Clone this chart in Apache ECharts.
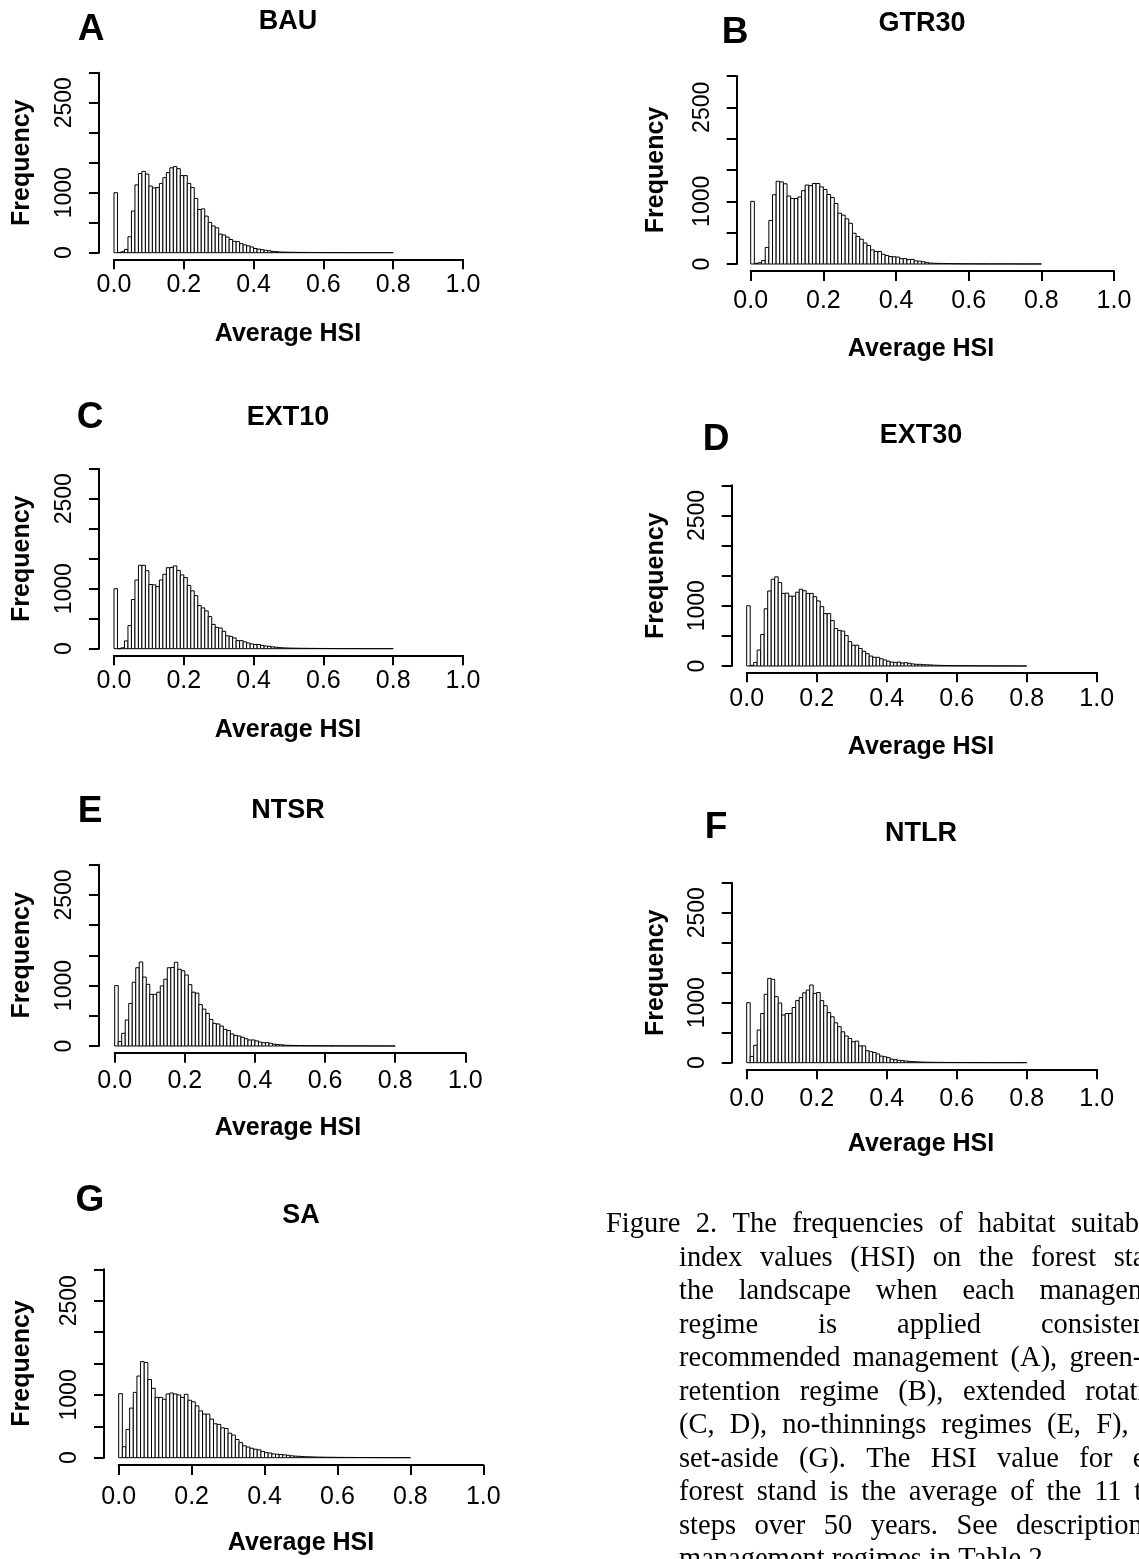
<!DOCTYPE html>
<html>
<head>
<meta charset="utf-8">
<script src="https://cdn.jsdelivr.net/npm/echarts@6/dist/echarts.min.js"></script>
<style>
html, body { margin: 0; padding: 0; background: #fff; }
#main { width: 1139px; height: 1559px; }
</style>
</head>
<body>
<div id="main"></div>
<script>
// bins of width 0.01 from 0.00 to 0.80
var binWidth = 0.01;
var binStart = [];
for (var i = 0; i < 80; i++) binStart.push(+(i * binWidth).toFixed(2));
var yShownLabels = [0, 1000, 2500];

// frequencies
var bau = [1000, 5, 15, 55, 265, 695, 1130, 1320, 1355, 1310, 1110, 1080, 1085, 1155, 1250, 1335, 1415, 1435, 1400, 1285,
  1285, 1155, 1085, 905, 720, 730, 610, 505, 445, 415, 310, 295, 260, 220, 190, 185, 150, 130, 115, 95,
  70, 60, 50, 40, 33, 22, 18, 12, 10, 9, 8, 7, 6, 5, 5, 4, 4, 3, 3, 3,
  3, 2, 2, 2, 2, 2, 2, 1, 1, 1, 1, 1, 1, 1, 1, 1, 1, 1, 1, 1];
var gtr30 = [1000, 10, 20, 55, 265, 695, 1105, 1320, 1310, 1280, 1085, 1045, 1045, 1070, 1170, 1260, 1250, 1285, 1285, 1230,
  1190, 1110, 1060, 965, 810, 780, 720, 650, 490, 440, 395, 335, 295, 225, 200, 200, 155, 135, 120, 115,
  110, 85, 85, 70, 75, 50, 45, 35, 22, 15, 12, 10, 9, 8, 7, 6, 5, 5, 4, 4,
  4, 3, 3, 3, 3, 2, 2, 2, 2, 2, 2, 2, 2, 1, 1, 1, 1, 1, 1, 1];
var ext10 = [1000, 0, 15, 130, 385, 820, 1145, 1390, 1390, 1300, 1070, 1065, 1035, 1145, 1240, 1350, 1355, 1380, 1305, 1230,
  1185, 1055, 965, 885, 720, 680, 630, 535, 405, 355, 345, 290, 215, 205, 180, 135, 135, 115, 95, 80,
  70, 70, 55, 45, 40, 30, 25, 18, 14, 12, 10, 9, 8, 7, 6, 6, 5, 5, 4, 4,
  4, 3, 3, 3, 3, 2, 2, 2, 2, 2, 2, 1, 1, 1, 1, 1, 1, 1, 1, 1];
var ext30 = [1000, 10, 60, 265, 525, 950, 1245, 1440, 1480, 1385, 1205, 1210, 1160, 1160, 1225, 1275, 1250, 1205, 1205, 1150,
  1080, 985, 870, 870, 755, 620, 590, 580, 505, 405, 345, 345, 290, 245, 205, 165, 145, 145, 120, 100,
  80, 65, 60, 65, 50, 55, 45, 35, 28, 28, 22, 20, 18, 15, 12, 10, 9, 8, 7, 6,
  6, 5, 5, 4, 4, 4, 3, 3, 3, 3, 2, 2, 2, 2, 2, 2, 1, 1, 1, 1];
var ntsr = [1000, 75, 210, 430, 705, 1055, 1295, 1390, 1140, 1020, 855, 855, 890, 995, 1105, 1295, 1300, 1385, 1270, 1245,
  1175, 1015, 890, 875, 685, 610, 540, 440, 375, 365, 330, 275, 255, 200, 175, 165, 145, 120, 100, 100,
  85, 65, 55, 55, 45, 30, 25, 20, 15, 12, 10, 9, 8, 7, 6, 6, 5, 5, 4, 4,
  4, 3, 3, 3, 3, 2, 2, 2, 2, 2, 2, 2, 1, 1, 1, 1, 1, 1, 1, 1];
var ntlr = [1000, 105, 290, 545, 820, 1140, 1405, 1390, 1100, 995, 795, 820, 820, 920, 1035, 1085, 1165, 1210, 1295, 1155,
  1170, 1035, 950, 835, 765, 665, 600, 515, 445, 405, 350, 360, 280, 280, 200, 185, 170, 145, 110, 100,
  85, 60, 50, 40, 35, 28, 22, 18, 15, 12, 10, 9, 8, 7, 6, 5, 5, 4, 4, 4,
  3, 3, 3, 3, 2, 2, 2, 2, 2, 2, 1, 1, 1, 1, 1, 1, 1, 1, 1, 1];
var sa = [1020, 175, 450, 790, 1040, 1300, 1530, 1515, 1245, 1105, 960, 960, 930, 1015, 1030, 1015, 1000, 960, 1010, 915,
  890, 825, 745, 695, 695, 615, 540, 530, 475, 465, 390, 360, 290, 240, 190, 170, 150, 135, 125, 100,
  80, 75, 60, 55, 50, 45, 38, 30, 25, 22, 18, 15, 14, 12, 10, 9, 8, 7, 7, 6,
  5, 5, 4, 4, 4, 3, 3, 3, 3, 2, 2, 2, 2, 2, 1, 1, 1, 1, 1, 1];

var captionLines = [
  'Figure 2. The frequencies of habitat suitability',
  'index values (HSI) on the forest stands',
  'the landscape when each management',
  'regime is applied consistently:',
  'recommended management (A), green-tree',
  'retention regime (B), extended rotations',
  '(C, D), no-thinnings regimes (E, F), and',
  'set-aside (G). The HSI value for each',
  'forest stand is the average of the 11 time',
  'steps over 50 years. See description of',
  'management regimes in Table 2.'
];

var panels = [
  { letter: 'A', title: 'BAU', data: bau, grid: [114, 72.7, 349, 180], yOff: 15, xOff: 6.6, xLabMargin: 13,
    letterAt: [91, 30], titleAt: [288, 22], xlabAt: [288, 334], ylabAt: [22.5, 162.7] },
  { letter: 'B', title: 'GTR30', data: gtr30, grid: [750.7, 76, 363.3, 188], yOff: 14, xOff: 7, xLabMargin: 18,
    letterAt: [735, 33], titleAt: [922, 24], xlabAt: [921, 349], ylabAt: [656, 170] },
  { letter: 'C', title: 'EXT10', data: ext10, grid: [114, 468.7, 349, 180], yOff: 15, xOff: 6.6, xLabMargin: 13,
    letterAt: [90, 418], titleAt: [288, 418], xlabAt: [288, 730], ylabAt: [22.5, 558.7] },
  { letter: 'D', title: 'EXT30', data: ext30, grid: [746.7, 485.3, 350, 180.7], yOff: 15, xOff: 6.3, xLabMargin: 14,
    letterAt: [716, 440], titleAt: [921, 436], xlabAt: [921, 747], ylabAt: [656, 575.7] },
  { letter: 'E', title: 'NTSR', data: ntsr, grid: [114.7, 864.7, 350.6, 181.3], yOff: 15.7, xOff: 6.7, xLabMargin: 16,
    letterAt: [90, 812], titleAt: [288, 811], xlabAt: [288, 1128], ylabAt: [22.5, 955.3] },
  { letter: 'F', title: 'NTLR', data: ntlr, grid: [746.7, 882.7, 350, 180], yOff: 15, xOff: 6.6, xLabMargin: 17,
    letterAt: [716, 828], titleAt: [921, 834], xlabAt: [921, 1144], ylabAt: [656, 972.7] },
  { letter: 'G', title: 'SA', data: sa, grid: [118.7, 1269.3, 364.6, 188.4], yOff: 14.7, xOff: 7.3, xLabMargin: 20,
    letterAt: [90, 1201], titleAt: [301, 1216], xlabAt: [301, 1543], ylabAt: [22.5, 1363.5] }
];

var sans = '"Liberation Sans", Arial, Helvetica, sans-serif';
var serif = '"Liberation Serif", "Times New Roman", serif';

function renderBin(params, api) {
  var x0 = api.value(0);
  var h = api.value(1);
  var p0 = api.coord([x0, h]);
  var p1 = api.coord([x0 + binWidth, 0]);
  return {
    type: 'rect',
    shape: { x: p0[0], y: p0[1], width: p1[0] - p0[0], height: p1[1] - p0[1] },
    style: { fill: '#fff', stroke: '#000', lineWidth: 1 }
  };
}

var grids = [], xAxes = [], yAxes = [], series = [], graphics = [];

panels.forEach(function (p, i) {
  grids.push({ left: p.grid[0], top: p.grid[1], width: p.grid[2], height: p.grid[3],
    containLabel: false, outerBoundsMode: 'none' });
  xAxes.push({
    gridIndex: i, type: 'value', min: 0, max: 1, interval: 0.2, offset: p.xOff,
    axisLine: { show: true, onZero: false, lineStyle: { color: '#000', width: 2 } },
    axisTick: { show: true, length: 10, lineStyle: { color: '#000', width: 2 } },
    splitLine: { show: false },
    axisLabel: { margin: p.xLabMargin, fontSize: 25, color: '#000', fontFamily: sans,
      formatter: function (v) { return v.toFixed(1); } }
  });
  yAxes.push({
    gridIndex: i, type: 'value', min: 0, max: 3000, interval: 500, offset: p.yOff,
    axisLine: { show: true, onZero: false, lineStyle: { color: '#000', width: 2 } },
    axisTick: { show: true, length: 10, lineStyle: { color: '#000', width: 2 } },
    splitLine: { show: false },
    axisLabel: { rotate: 90, margin: 23, fontSize: 23, color: '#000', fontFamily: sans,
      formatter: function (v) { return yShownLabels.indexOf(v) >= 0 ? String(v) : ''; } }
  });
  series.push({
    type: 'custom', xAxisIndex: i, yAxisIndex: i, silent: true, clip: false,
    renderItem: renderBin,
    data: p.data.map(function (v, k) { return [binStart[k], v]; })
  });

  graphics.push({ type: 'text', x: p.letterAt[0], y: p.letterAt[1],
    style: { text: p.letter, fontSize: 37, fontWeight: 'bold', fontFamily: sans, fill: '#000',
      align: 'center', verticalAlign: 'middle' } });
  graphics.push({ type: 'text', x: p.titleAt[0], y: p.titleAt[1],
    style: { text: p.title, fontSize: 27, fontWeight: 'bold', fontFamily: sans, fill: '#000',
      align: 'center', verticalAlign: 'middle' } });
  graphics.push({ type: 'text', x: p.xlabAt[0], y: p.xlabAt[1],
    style: { text: 'Average HSI', fontSize: 25, fontWeight: 'bold', fontFamily: sans, fill: '#000',
      align: 'center', verticalAlign: 'middle' } });
  graphics.push({ type: 'text', x: p.ylabAt[0], y: p.ylabAt[1], rotation: Math.PI / 2,
    style: { text: 'Frequency', fontSize: 25, fontWeight: 'bold', fontFamily: sans, fill: '#000',
      align: 'center', verticalAlign: 'middle' } });
});

// caption, justified between the indent and the right edge of the column
var capFont = 28.5;
var measure = document.createElement('canvas').getContext('2d');
measure.font = capFont + 'px "Liberation Serif"';
var capRight = 1185, capBase = 1234, capStep = 33.5;
captionLines.forEach(function (line, li) {
  var x0 = li === 0 ? 606 : 679;
  var words = line.split(' ');
  var widths = words.map(function (w) { return measure.measureText(w).width; });
  var total = widths.reduce(function (a, b) { return a + b; }, 0);
  var last = li === captionLines.length - 1;
  var gap = last ? measure.measureText(' ').width : (capRight - x0 - total) / (words.length - 1);
  var x = x0;
  words.forEach(function (w, k) {
    graphics.push({ type: 'text', x: x, y: capBase + li * capStep - 9,
      style: { text: w, fontSize: capFont, fontFamily: serif, fill: '#000',
        align: 'left', verticalAlign: 'middle' } });
    x += widths[k] + gap;
  });
});

var chart = echarts.init(document.getElementById('main'));
chart.setOption({
  backgroundColor: '#fff',
  animation: false,
  grid: grids,
  xAxis: xAxes,
  yAxis: yAxes,
  series: series,
  graphic: graphics
});
</script>
</body>
</html>
